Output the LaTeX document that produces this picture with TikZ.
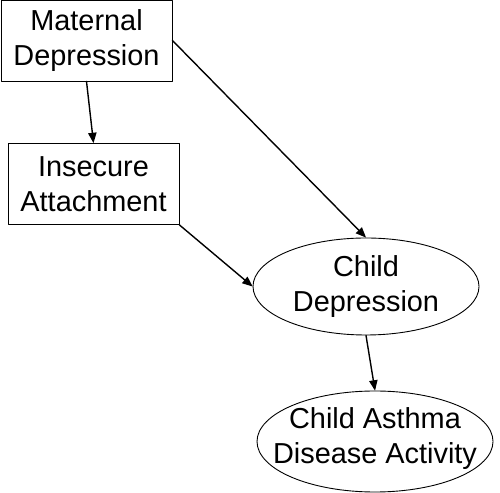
\documentclass[tikz,border=0pt]{standalone}
\usepackage{fontspec}
\setmainfont{Liberation Sans}
\usetikzlibrary{arrows}
\usetikzlibrary{shapes.geometric}

\begin{document}
\begin{tikzpicture}[x=1bp,y=1bp,line cap=round,line join=round,>=triangle 45,
        every node/.style={font=\fontsize{29}{35}\selectfont,align=center},
        varbox/.style={draw,line width=0.9pt,rectangle,minimum width=171bp,minimum height=81bp,inner sep=0pt},
        varoval/.style={draw,line width=0.9pt,ellipse,inner sep=0pt},
        path/.style={->,line width=1.4pt}]
        \useasboundingbox (0,0) rectangle (500,493);
        % boxes
        \node[varbox] (mat) at (86.5,452.5) {Maternal\\Depression};
        \node[varbox] (ins) at (93.5,309) {Insecure\\Attachment};
        % ovals
        \node[varoval,minimum width=226bp,minimum height=97bp,
              label={center:Child\\Depression}] (cdep) at (366,206.5) {};
        \node[varoval,minimum width=236bp,minimum height=101bp,
              label={[yshift=3bp]center:Child Asthma\\Disease Activity}] (asth) at (375,51.5) {};
        % paths
        \draw[path] (mat.south) -- (ins.north);
        \draw[path] (mat.east) -- (cdep.north);
        \draw[path] (ins.south east) -- (cdep.west);
        \draw[path] (cdep.south) -- (asth.north);
\end{tikzpicture}
\end{document}
